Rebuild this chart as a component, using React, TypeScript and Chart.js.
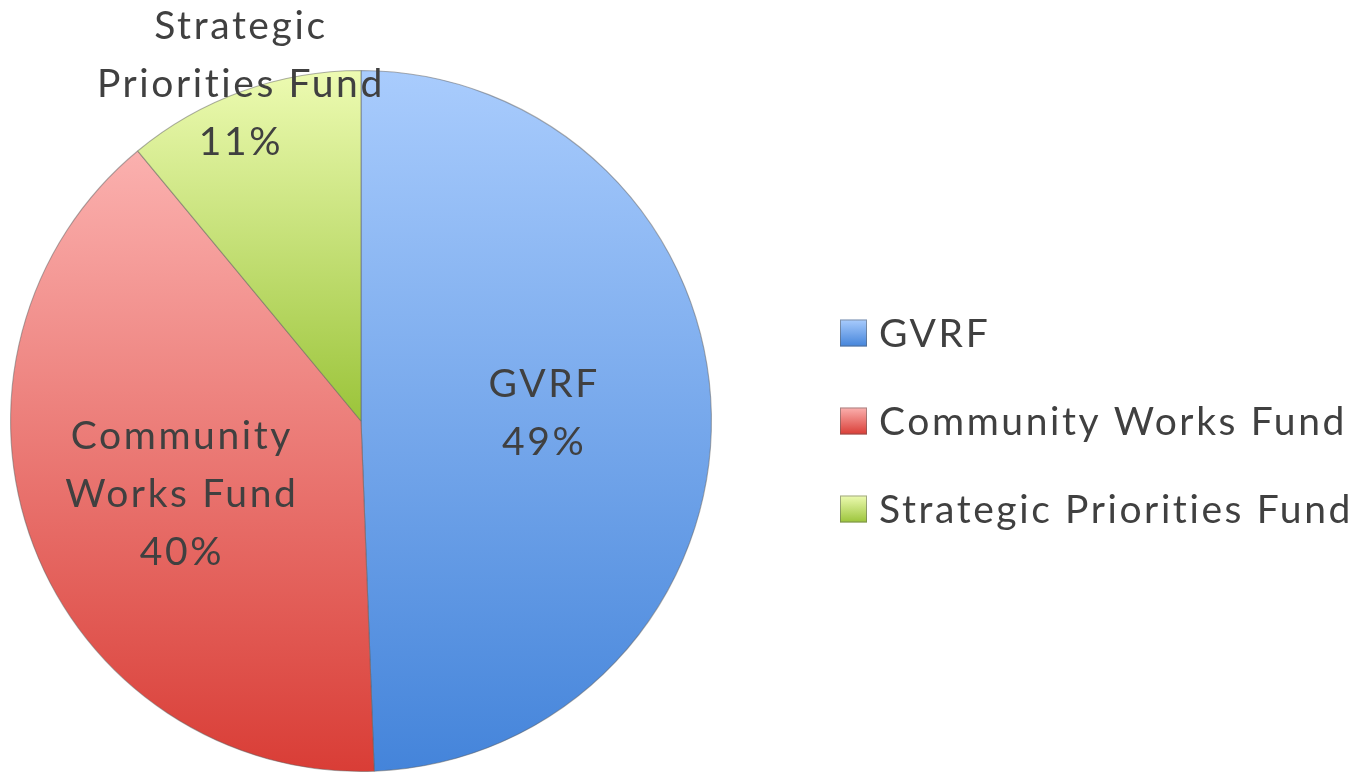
import React, { useEffect, useRef } from 'react';
import { Chart, registerables } from 'chart.js';

Chart.register(...registerables);

// ---- data ----
const categories = ['GVRF', 'Community Works Fund', 'Strategic Priorities Fund'];
const shares = [49.4, 39.6, 11.0];
const sliceLabelLines = [['GVRF'], ['Community', 'Works Fund'], ['Strategic', 'Priorities Fund']];

// ---- style ----
const lightColors = ['#a9ccfd', '#fbb1af', '#edfbb2'];
const darkColors = ['#4484da', '#d93d36', '#9bc43a'];
const labelRadiusFactors = [0.52, 0.55, 1.02];
const labelYShift = [-4, 5, 0];
const FONT_FAMILY = 'Lato, "Open Sans", sans-serif';
const FONT_SIZE = 39;
const LETTER_SPACING = '2.6px';
const TEXT_COLOR = '#404040';

function sliceBounds(chart: any, index: number) {
  const a = chart.chartArea;
  const cy = (a.top + a.bottom) / 2;
  const r = Math.min(a.right - a.left, a.bottom - a.top) / 2;
  const data = chart.data.datasets[0].data as number[];
  const total = data.reduce((s, v) => s + v, 0);
  let start = 0;
  for (let i = 0; i < index; i++) start += (data[i] / total) * Math.PI * 2;
  const end = start + (data[index] / total) * Math.PI * 2;
  const ys = [cy, cy - r * Math.cos(start), cy - r * Math.cos(end)];
  if (start <= 0.0001 || end >= Math.PI * 2 - 0.0001) ys.push(cy - r);
  if (start <= Math.PI && end >= Math.PI) ys.push(cy + r);
  return { top: Math.min(...ys), bottom: Math.max(...ys) };
}

function setFont(ctx: any) {
  ctx.font = `${FONT_SIZE}px ${FONT_FAMILY}`;
  try {
    ctx.letterSpacing = LETTER_SPACING;
  } catch (e) {
    /* ignore */
  }
}

const sliceLabelPlugin = {
  id: 'sliceLabels',
  afterDatasetsDraw(chart: any) {
    const ctx = chart.ctx;
    const meta = chart.getDatasetMeta(0);
    const data = chart.data.datasets[0].data as number[];
    const total = data.reduce((s, v) => s + v, 0);
    ctx.save();
    setFont(ctx);
    ctx.fillStyle = TEXT_COLOR;
    ctx.textAlign = 'center';
    ctx.textBaseline = 'middle';
    const lineH = 58;
    meta.data.forEach((arc: any, i: number) => {
      const p = arc.getProps(['x', 'y', 'startAngle', 'endAngle', 'outerRadius'], true);
      const mid = (p.startAngle + p.endAngle) / 2;
      const d = p.outerRadius * labelRadiusFactors[i];
      const x = p.x + Math.cos(mid) * d;
      const y = p.y + Math.sin(mid) * d + labelYShift[i];
      const lines = [...sliceLabelLines[i], `${Math.round((data[i] / total) * 100)}%`];
      const y0 = y - ((lines.length - 1) * lineH) / 2;
      lines.forEach((t, k) => ctx.fillText(t, x + 1, y0 + k * lineH));
    });
    ctx.restore();
  },
};

const legendPlugin = {
  id: 'customLegend',
  afterDraw(chart: any) {
    const ctx = chart.ctx;
    const boxX = 840;
    const box = 27;
    const firstY = 333;
    const rowGap = 88;
    ctx.save();
    setFont(ctx);
    ctx.textAlign = 'left';
    ctx.textBaseline = 'middle';
    chart.data.labels.forEach((label: string, i: number) => {
      const cy = firstY + i * rowGap;
      const g = ctx.createLinearGradient(0, cy - box / 2, 0, cy + box / 2);
      g.addColorStop(0, lightColors[i]);
      g.addColorStop(1, darkColors[i]);
      ctx.fillStyle = g;
      ctx.fillRect(boxX, cy - box / 2, box, box);
      ctx.strokeStyle = 'rgba(90,90,90,0.5)';
      ctx.lineWidth = 1;
      ctx.strokeRect(boxX + 0.5, cy - box / 2 + 0.5, box - 1, box - 1);
      ctx.fillStyle = TEXT_COLOR;
      ctx.fillText(label, boxX + box + 12, cy + 1);
    });
    ctx.restore();
  },
};

export default function App() {
  const canvasRef = useRef<HTMLCanvasElement | null>(null);

  useEffect(() => {
    document.body.style.margin = '0';
    const canvas = canvasRef.current!;
    const chart = new Chart(canvas, {
      type: 'pie',
      data: {
        labels: categories,
        datasets: [
          {
            data: shares,
            backgroundColor: (c: any) => {
              const chart = c.chart;
              const i = c.dataIndex;
              if (!chart.chartArea || i === undefined) return lightColors[i ?? 0];
              const b = sliceBounds(chart, i);
              const g = chart.ctx.createLinearGradient(0, b.top, 0, b.bottom);
              g.addColorStop(0, lightColors[i]);
              g.addColorStop(1, darkColors[i]);
              return g;
            },
            borderColor: 'rgba(95,95,95,0.5)',
            borderWidth: 1.1,
          },
        ],
      },
      options: {
        responsive: false,
        animation: false,
        events: [],
        layout: { padding: { left: 10, right: 653, top: 70, bottom: 2 } },
        plugins: {
          legend: { display: false },
          tooltip: { enabled: false },
          title: { display: false },
        },
      },
      plugins: [sliceLabelPlugin, legendPlugin],
    });
    return () => chart.destroy();
  }, []);

  return (
    <div style={{ position: 'fixed', left: 0, top: 0, width: 1365, height: 774, background: '#fff' }}>
      <canvas ref={canvasRef} width={1365} height={774} style={{ width: 1365, height: 774 }} />
    </div>
  );
}
